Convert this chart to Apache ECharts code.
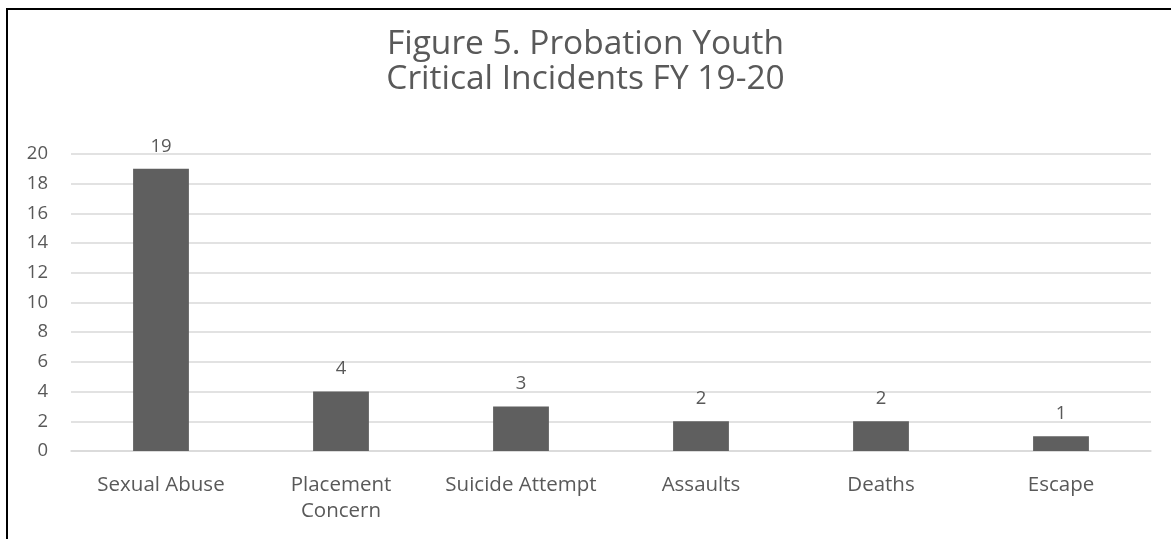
<!DOCTYPE html>
<html>
<head>
<meta charset="utf-8">
<script src="https://cdn.jsdelivr.net/npm/echarts@6/dist/echarts.min.js"></script>
<style>
  html, body { margin: 0; padding: 0; background: #fff; }
  #chart { width: 1171px; height: 539px; }
</style>
</head>
<body>
<div id="chart"></div>
<script>
  const categories = ['Sexual Abuse', 'Placement\nConcern', 'Suicide Attempt', 'Assaults', 'Deaths', 'Escape']
  const incidents = [19, 4, 3, 2, 2, 1]
  const yTicks = { min: 0, max: 20, step: 2 }

  const textColor = '#595959'
  const fontFamily = '"Open Sans", "Noto Sans", sans-serif'

  const chart = echarts.init(document.getElementById('chart'))
  chart.setOption({
    animation: false,
    textStyle: { fontFamily: fontFamily },
    graphic: [
      {
        type: 'rect',
        shape: { x: 7, y: 9, width: 1200, height: 600 },
        style: { fill: 'none', stroke: '#000', lineWidth: 2 }
      }
    ],
    title: {
      text: 'Figure 5. Probation Youth\nCritical Incidents FY 19-20',
      left: 'center',
      top: 22,
      textStyle: {
        color: textColor,
        fontSize: 33.5,
        fontWeight: 'normal',
        lineHeight: 35,
        fontFamily: fontFamily
      }
    },
    grid: {
      left: 71,
      right: 20,
      top: 154,
      bottom: 88,
      containLabel: false
    },
    xAxis: {
      type: 'category',
      data: categories,
      axisTick: { show: false },
      axisLine: { lineStyle: { color: '#d9d9d9', width: 1.5 } },
      axisLabel: {
        color: textColor,
        fontSize: 20.5,
        lineHeight: 26,
        margin: 21,
        interval: 0
      }
    },
    yAxis: {
      type: 'value',
      min: yTicks.min,
      max: yTicks.max,
      interval: yTicks.step,
      axisLine: { show: false },
      axisTick: { show: false },
      splitLine: { lineStyle: { color: '#d9d9d9', width: 1.5 } },
      axisLabel: {
        color: textColor,
        fontSize: 18.5,
        margin: 23
      }
    },
    series: [
      {
        type: 'bar',
        data: incidents,
        barWidth: '31%',
        itemStyle: { color: '#5f5f5f' },
        label: {
          show: true,
          position: 'top',
          distance: 13,
          color: textColor,
          fontSize: 18.5
        }
      }
    ]
  })
</script>
</body>
</html>
